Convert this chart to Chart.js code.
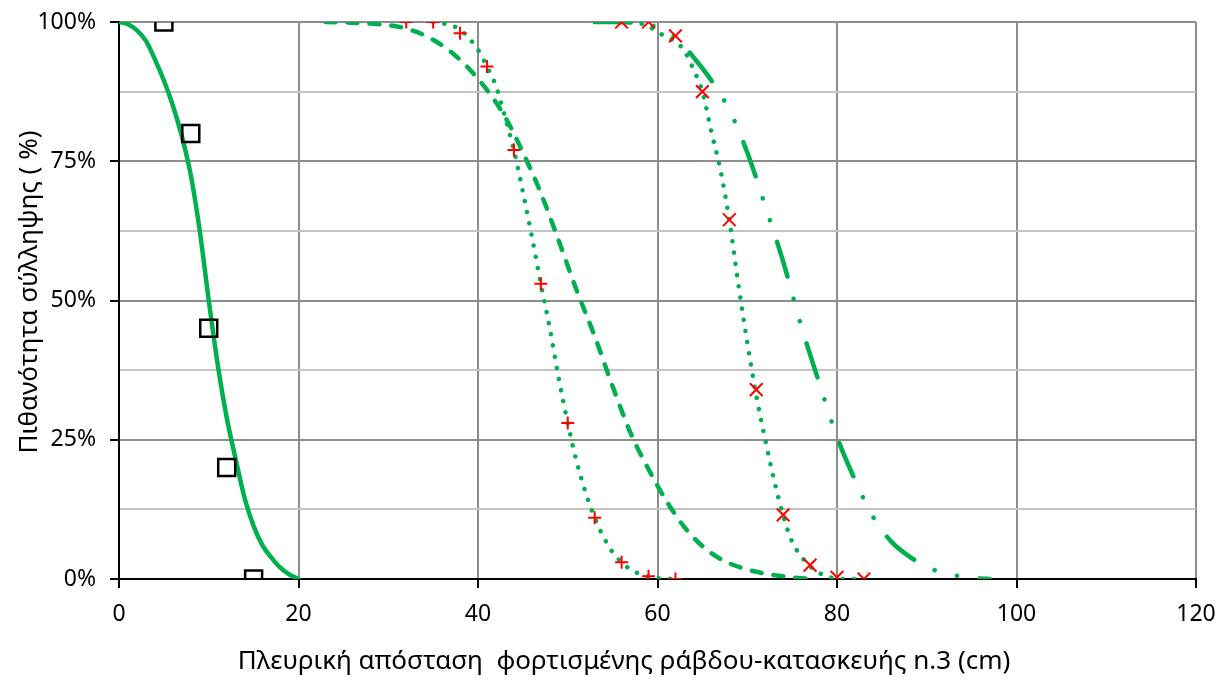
<!DOCTYPE html>
<html>
<head>
<meta charset="utf-8">
<script src="https://cdn.jsdelivr.net/npm/chart.js@4.4.1/dist/chart.umd.min.js"></script>
<style>
  html, body { margin: 0; padding: 0; background: #fff; }
  #wrap { width: 1220px; height: 682px; }
</style>
</head>
<body>
<div id="wrap"><canvas id="chart" width="1220" height="682"></canvas></div>
<script>
// observed points (squares, plus, x)
const sqX = [5, 8, 10, 12, 15];
const sqY = [100, 80, 45, 20, 0];
const plusX = [32, 35, 38, 41, 44, 47, 50, 53, 56, 59, 62];
const plusY = [100, 100, 98, 92, 77, 53, 28, 11, 3, 0.5, 0];
const crossX = [56, 59, 62, 65, 68, 71, 74, 77, 80, 83];
const crossY = [100, 100, 97.5, 87.5, 64.5, 34, 11.5, 2.5, 0.3, 0];

// fitted curves
const fitSolidX = [0, 1, 2, 3, 4, 5, 6, 7, 8, 9, 10, 11, 12, 13, 14, 15, 16, 17, 18, 19, 20];
const fitSolidY = [100, 99.6, 98.5, 96.6, 93.3, 89.5, 85, 79.5, 72.5, 62.5, 50, 38.5, 29, 21.5, 14.5, 9.5, 6, 3.8, 2, 0.8, 0];

const fitPlusX = [35, 36, 38, 40, 41, 42, 43, 44, 45, 46, 47, 48, 49, 50, 51, 52, 53, 54, 55, 56, 57, 58, 59, 60, 61, 62];
const fitPlusY = [100, 99.8, 98.6, 95, 92, 88.5, 83, 77, 69.5, 61.5, 53, 45, 36, 28, 21, 15.5, 11, 7.5, 4.8, 3, 1.7, 0.9, 0.4, 0.15, 0.05, 0];

const fitDashX = [23, 27, 31, 33, 35, 37, 39, 41, 43, 45, 47, 49, 51, 53, 55, 57, 59, 61, 63, 65, 67, 69, 71, 73, 75, 77];
const fitDashY = [100, 99.8, 99.2, 98.3, 96.8, 94.6, 91.6, 87.8, 83, 76.6, 69.3, 60.7, 51.8, 43.6, 34.6, 26.2, 19.7, 14, 9.3, 5.9, 3.6, 2.2, 1.3, 0.7, 0.3, 0];

const fitCrossX = [57, 58, 59, 60, 61, 62, 63, 64, 65, 66, 67, 68, 69, 70, 71, 72, 73, 74, 75, 76, 77, 78, 79, 80, 81, 82];
const fitCrossY = [100, 99.8, 99.2, 98.2, 97.3, 96.5, 94.8, 91.5, 87.5, 80.3, 73.5, 64.5, 53, 42.5, 33, 25, 17.7, 11.4, 6.7, 4.1, 2.3, 1.1, 0.4, 0.1, 0, 0];

const fitDashDotX = [53, 55, 57, 59, 61, 62, 63, 64, 66, 68, 70, 72, 74, 76, 78, 80, 82, 84, 86, 88, 90, 92, 94, 96, 97];
const fitDashDotY = [100, 100, 99.9, 99.5, 98.5, 97.2, 95.6, 93.7, 89.5, 84.2, 76.6, 67, 57, 45.5, 35.3, 25.5, 17.8, 11.2, 6.8, 4.1, 2.2, 1.0, 0.45, 0.1, 0];

const xTitle = 'Πλευρική απόσταση  φορτισμένης ράβδου-κατασκευής n.3 (cm)';
const yTitle = 'Πιθανότητα σύλληψης ( %)';

const green = '#00B050';
const red = '#FF0000';
const FONT = '"Noto Sans", "DejaVu Sans", sans-serif';

function pts(xs, ys) {
  return xs.map((x, i) => ({ x: x, y: ys[i] }));
}

function curve(xs, ys, dash) {
  return {
    data: pts(xs, ys),
    showLine: true,
    borderColor: green,
    borderWidth: 4.5,
    borderDash: dash,
    borderCapStyle: 'round',
    cubicInterpolationMode: 'monotone',
    pointRadius: 0,
    fill: false
  };
}

// axis titles drawn by hand so they sit where the original has them
const axisTitles = {
  id: 'axisTitles',
  afterDraw(chart) {
    const ctx = chart.ctx;
    ctx.save();
    ctx.fillStyle = '#000';
    ctx.font = '26px ' + FONT;
    ctx.textAlign = 'center';
    ctx.textBaseline = 'middle';
    ctx.fillText(xTitle, 624, 662);
    ctx.translate(30, 292);
    ctx.rotate(-Math.PI / 2);
    ctx.fillText(yTitle, 0, 0);
    ctx.restore();
  }
};

new Chart(document.getElementById('chart'), {
  type: 'scatter',
  data: {
    datasets: [
      { data: pts(crossX, crossY), pointStyle: 'crossRot', pointRadius: 9, borderColor: red, borderWidth: 2 },
      { data: pts(plusX, plusY), pointStyle: 'cross', pointRadius: 6.5, borderColor: red, borderWidth: 2 },
      { data: pts(sqX, sqY), pointStyle: 'rect', pointRadius: 12, borderColor: '#000', borderWidth: 2.5, backgroundColor: 'rgba(0,0,0,0)' },
      curve(fitSolidX, fitSolidY, []),
      curve(fitPlusX, fitPlusY, [0.1, 11.2]),
      curve(fitDashX, fitDashY, [10, 12]),
      curve(fitCrossX, fitCrossY, [0.1, 11.2]),
      curve(fitDashDotX, fitDashDotY, [36, 23, 0.1, 23, 0.1, 23])
    ]
  },
  options: {
    responsive: false,
    animation: false,
    layout: { padding: { top: 22, right: 24, left: 0, bottom: 0 } },
    plugins: {
      legend: { display: false },
      tooltip: { enabled: false }
    },
    scales: {
      x: {
        type: 'linear',
        min: 0,
        max: 120,
        afterFit: (s) => { s.height = 103; s.paddingLeft = 0; s.paddingRight = 0; },
        ticks: { stepSize: 20, color: '#000', padding: 13, font: { family: FONT, size: 23 } },
        grid: { color: '#8c8c8c', lineWidth: 2, tickLength: 9, tickColor: '#000', tickWidth: 2 },
        border: { color: '#000', width: 2 }
      },
      y: {
        min: 0,
        max: 100,
        afterFit: (s) => { s.width = 119; s.paddingTop = 0; s.paddingBottom = 0; },
        ticks: {
          stepSize: 12.5,
          color: '#000',
          padding: 14,
          font: { family: FONT, size: 23 },
          callback: (v) => (v % 25 === 0 ? v + '%' : '')
        },
        grid: {
          color: (c) => (c.tick && c.tick.value % 25 === 0 ? '#8c8c8c' : '#c4c4c4'),
          tickColor: (c) => (c.tick && c.tick.value % 25 === 0 ? '#000' : 'rgba(0,0,0,0)'),
          lineWidth: 2,
          tickLength: 9,
          tickWidth: 2
        },
        border: { color: '#000', width: 2 }
      }
    }
  },
  plugins: [axisTitles]
});
</script>
</body>
</html>
